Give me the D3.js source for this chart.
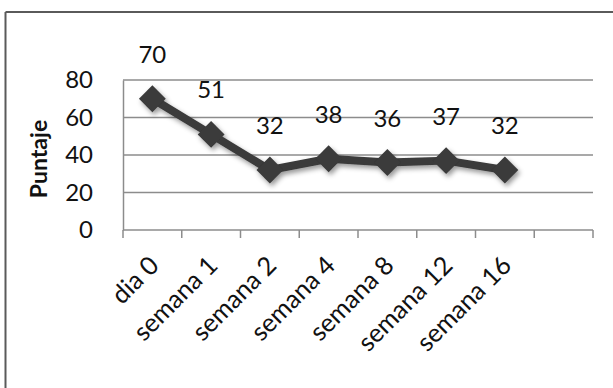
<!DOCTYPE html>
<html><head><meta charset="utf-8">
<script src="https://cdn.jsdelivr.net/npm/d3@7"></script>
<style>body{margin:0;background:#fff}svg{display:block}</style>
</head><body>
<script>
const categories = ["dia 0","semana 1","semana 2","semana 4","semana 8","semana 12","semana 16"];
const values = [70,51,32,38,36,37,32];
const yTicks = [0,20,40,60,80];
const yTitle = "Puntaje";

const W = 613, H = 388;
const m = {left:123, right:20, top:80, bottom:158};
const svg = d3.select("body").append("svg").attr("width",W).attr("height",H);
const font = "Lato, 'Open Sans', sans-serif";

const defs = svg.append("defs");
const f = defs.append("filter").attr("id","sh").attr("x","-30%").attr("y","-30%").attr("width","160%").attr("height","160%");
f.append("feDropShadow").attr("dx",2).attr("dy",3).attr("stdDeviation",2.5).attr("flood-color","#000").attr("flood-opacity",0.4);

// border (top + left)
svg.append("line").attr("x1",5.5).attr("x2",W).attr("y1",12).attr("y2",12).attr("stroke","#5a5a5a").attr("stroke-width",2);
svg.append("line").attr("x1",5.5).attr("x2",5.5).attr("y1",12).attr("y2",H).attr("stroke","#5a5a5a").attr("stroke-width",2);

const slots = categories.concat([" "]);
const x = d3.scaleBand().domain(slots).range([m.left, W-m.right]).padding(0);
const y = d3.scaleLinear().domain([0,80]).range([H-m.bottom, m.top]);

// gridlines
svg.append("g").selectAll("line").data(yTicks.filter(d=>d>0)).join("line")
  .attr("x1",m.left).attr("x2",W-m.right)
  .attr("y1",d=>y(d)).attr("y2",d=>y(d))
  .attr("stroke","#8c8c8c").attr("stroke-width",1.5);

// y axis
const ya = svg.append("g").attr("transform",`translate(${m.left},0)`)
  .call(d3.axisLeft(y).tickValues(yTicks).tickSize(0).tickPadding(30));
ya.select(".domain").attr("stroke","#8c8c8c").attr("stroke-width",1.5);
ya.selectAll("text").attr("font-family",font).attr("font-size",24).attr("fill","#111");

// x axis line + ticks at band edges
const xa = svg.append("g");
xa.append("line").attr("x1",m.left).attr("x2",W-m.right).attr("y1",y(0)).attr("y2",y(0))
  .attr("stroke","#8c8c8c").attr("stroke-width",1.5);
const edges = slots.map(s=>x(s)).concat([x(slots[slots.length-1])+x.bandwidth()]);
xa.selectAll("line.t").data(edges).join("line").attr("class","t")
  .attr("x1",d=>d).attr("x2",d=>d).attr("y1",y(0)).attr("y2",y(0)+8)
  .attr("stroke","#8c8c8c").attr("stroke-width",1.5);
xa.selectAll("text").data(categories).join("text")
  .attr("transform",d=>`translate(${x(d)+x.bandwidth()/2+8},${y(0)+37}) rotate(-45)`)
  .attr("text-anchor","end").attr("font-family",font).attr("font-size",25.5).attr("fill","#111")
  .text(d=>d);

// y title
svg.append("text").attr("transform",`translate(47,${(y(0)+y(80))/2+4}) rotate(-90)`)
  .attr("text-anchor","middle").attr("font-family",font).attr("font-weight","bold")
  .attr("font-size",23).attr("fill","#111").text(yTitle);

// series
const cx = (d,i)=>x(categories[i])+x.bandwidth()/2;
const g = svg.append("g").attr("filter","url(#sh)");
g.append("path").datum(values)
  .attr("d",d3.line().x((d,i)=>cx(d,i)).y(d=>y(d)))
  .attr("fill","none").attr("stroke","#3a3a3a").attr("stroke-width",8).attr("stroke-linejoin","round");
g.selectAll("path.m").data(values).join("path").attr("class","m")
  .attr("d",d3.symbol(d3.symbolSquare,360)())
  .attr("transform",(d,i)=>`translate(${cx(d,i)},${y(d)}) rotate(45)`)
  .attr("fill","#3a3a3a");

// data labels
svg.append("g").selectAll("text").data(values).join("text")
  .attr("x",(d,i)=>cx(d,i)).attr("y",d=>y(d)-36)
  .attr("text-anchor","middle").attr("font-family",font).attr("font-size",24).attr("fill","#111")
  .text(d=>d);
</script>
</body></html>
